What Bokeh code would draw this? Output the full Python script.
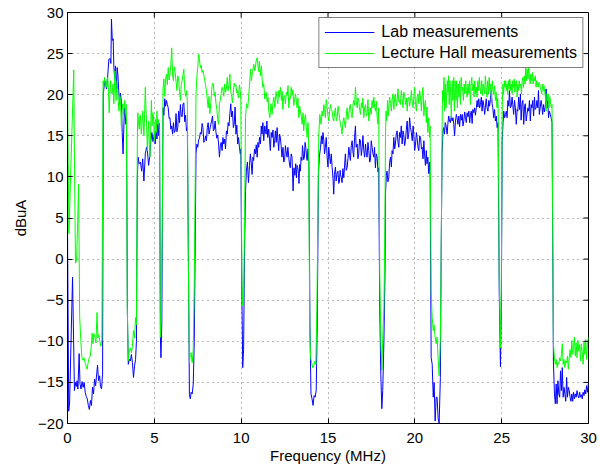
from bokeh.plotting import figure
from bokeh.models import Range1d, FixedTicker, CustomJSTickFormatter
from bokeh.embed import file_html
from bokeh.resources import INLINE

# ---------------- data ----------------
x_ticks = [0, 5, 10, 15, 20, 25, 30]
y_ticks = [-20, -15, -10, -5, 0, 5, 10, 15, 20, 25, 30]

lab_freq = [
    0.00, 0.07, 0.12, 0.29, 0.40, 0.45, 0.50, 0.55, 0.60, 0.67,
    0.72, 0.78, 0.84, 0.90, 0.96, 1.02, 1.08, 1.14, 1.20, 1.26,
    1.32, 1.38, 1.44, 1.50, 1.56, 1.62, 1.68, 1.73, 1.79, 1.85,
    1.90, 1.96, 2.02,
    2.06, 2.15, 2.25, 2.32, 2.38, 2.45, 2.50, 2.53, 2.58, 2.63,
    2.67, 2.72, 2.76, 2.82, 2.86, 2.90, 2.95, 3.00, 3.05, 3.10,
    3.15, 3.20, 3.24, 3.28, 3.32, 3.36, 3.40,
    3.45, 3.50, 3.56, 3.62, 3.68, 3.74, 3.80, 3.86, 3.92, 3.97,
    4.02, 4.07, 4.12, 4.20, 4.27, 4.33, 4.40, 4.48, 4.55, 4.60,
    4.67, 4.73, 4.80, 4.86, 4.92, 5.00, 5.05, 5.10, 5.15, 5.20,
    5.26, 5.30,
    5.35, 5.38, 5.43,
    5.50, 5.55, 5.60, 5.65, 5.70, 5.75, 5.80, 5.85, 5.90, 5.95,
    6.00, 6.05, 6.10, 6.15, 6.20, 6.25, 6.30, 6.35, 6.40, 6.45,
    6.50, 6.55, 6.60, 6.65, 6.70, 6.75, 6.80, 6.85, 6.90,
    6.97, 7.02, 7.07, 7.12, 7.18, 7.24, 7.30,
    7.40, 7.45, 7.50, 7.55, 7.60, 7.65, 7.70, 7.75, 7.80, 7.85,
    7.90, 7.95, 8.00, 8.05, 8.10, 8.15, 8.20, 8.25, 8.30, 8.35,
    8.40, 8.45, 8.50, 8.55, 8.60, 8.65, 8.70, 8.75, 8.80, 8.85,
    8.90, 8.95, 9.00, 9.05, 9.10, 9.15, 9.20, 9.25, 9.30, 9.35,
    9.40, 9.45, 9.50, 9.55, 9.60, 9.65, 9.70, 9.75, 9.80, 9.85,
    9.90, 9.95, 9.98,
    10.04, 10.09, 10.14, 10.20,
    10.25, 10.30, 10.36, 10.42, 10.48, 10.53, 10.58, 10.63, 10.68, 10.72,
    10.77, 10.82, 10.87, 10.92, 10.97, 11.01, 11.06, 11.11, 11.16, 11.20,
    11.25, 11.30, 11.36, 11.40, 11.44, 11.48, 11.53, 11.59, 11.63, 11.68,
    11.73, 11.78, 11.83, 11.88, 11.93, 11.97, 12.02, 12.07, 12.12, 12.16,
    12.21, 12.26, 12.30, 12.35, 12.41, 12.45, 12.50, 12.55, 12.58, 12.64,
    12.69, 12.74, 12.79, 12.83, 12.88, 12.93, 12.99, 13.04, 13.09, 13.14,
    13.18, 13.22, 13.26, 13.30, 13.33, 13.37, 13.41, 13.45, 13.50, 13.53,
    13.56, 13.60, 13.64, 13.68, 13.72, 13.76, 13.80, 13.85, 13.90,
    13.96, 14.02, 14.08, 14.14, 14.20, 14.26, 14.32, 14.38,
    14.45, 14.50, 14.57, 14.62, 14.66, 14.71, 14.76, 14.80, 14.85, 14.90,
    14.95, 15.00, 15.04, 15.09, 15.14, 15.19, 15.24, 15.29, 15.33, 15.37,
    15.43, 15.47, 15.52, 15.57, 15.62, 15.66, 15.70, 15.72, 15.77, 15.81,
    15.86, 15.91, 15.95, 16.00, 16.05, 16.10, 16.15, 16.20, 16.25, 16.29,
    16.34, 16.39, 16.44, 16.48, 16.53, 16.58, 16.62, 16.68, 16.72, 16.77,
    16.82, 16.87, 16.92, 16.97, 17.01, 17.06, 17.11, 17.16, 17.20, 17.25,
    17.30, 17.35, 17.40, 17.44, 17.49, 17.54, 17.59, 17.64, 17.68, 17.73,
    17.78, 17.83, 17.88, 17.92,
    17.98, 18.04, 18.10, 18.15, 18.22, 18.28,
    18.31, 18.36, 18.40, 18.45, 18.50, 18.55, 18.60, 18.65, 18.69, 18.74,
    18.79, 18.84, 18.88, 18.93, 18.98, 19.03, 19.08, 19.12, 19.17, 19.22,
    19.27, 19.32, 19.36, 19.41, 19.46, 19.51, 19.56, 19.60, 19.65, 19.70,
    19.75, 19.80, 19.85, 19.90, 19.94, 19.99, 20.04, 20.09, 20.13, 20.18,
    20.23, 20.28, 20.33, 20.38, 20.42, 20.47, 20.52, 20.56, 20.61, 20.66,
    20.70, 20.75, 20.80, 20.85, 20.88,
    20.94, 21.00, 21.06, 21.11, 21.17, 21.23, 21.28, 21.34, 21.40, 21.47,
    21.52, 21.57, 21.62, 21.66, 21.71, 21.75, 21.80, 21.86, 21.90, 21.95,
    22.00, 22.05, 22.10, 22.15, 22.20, 22.24, 22.29, 22.34, 22.39, 22.43,
    22.48, 22.53, 22.58, 22.63, 22.68, 22.73, 22.77, 22.82, 22.87, 22.92,
    22.96, 23.01, 23.06, 23.11, 23.16, 23.20, 23.25, 23.30, 23.34, 23.39,
    23.44, 23.49, 23.54, 23.59, 23.63, 23.68, 23.73, 23.78, 23.83, 23.87,
    23.92, 23.97, 24.02, 24.06, 24.11, 24.16, 24.21, 24.26, 24.30, 24.35,
    24.40, 24.45, 24.49, 24.54, 24.59, 24.64, 24.69, 24.74, 24.79,
    24.86, 24.93, 24.98,
    25.03, 25.08, 25.12, 25.17, 25.22, 25.27, 25.31, 25.36, 25.41, 25.45,
    25.50, 25.55, 25.60, 25.64, 25.69, 25.74, 25.79, 25.84, 25.89, 25.93,
    25.98, 26.03, 26.08, 26.12, 26.17, 26.22, 26.27, 26.32, 26.36, 26.41,
    26.46, 26.51, 26.56, 26.60, 26.65, 26.70, 26.74, 26.79, 26.84, 26.89,
    26.93, 26.98, 27.03, 27.08, 27.12, 27.17, 27.22, 27.27, 27.32, 27.36,
    27.41, 27.46, 27.51, 27.56, 27.60, 27.65, 27.70, 27.74, 27.80, 27.85,
    27.90,
    27.98, 28.04, 28.09, 28.14, 28.19, 28.24, 28.29, 28.34, 28.39, 28.44,
    28.49, 28.54, 28.59, 28.64, 28.69, 28.74, 28.79, 28.84, 28.89, 28.94,
    28.99, 29.04, 29.09, 29.14, 29.19, 29.24, 29.29, 29.34, 29.39, 29.44,
    29.49, 29.54, 29.59, 29.64, 29.69, 29.74, 29.79, 29.84, 29.89, 29.94,
    30.00,
]

lab_dbua = [
    4.0, -18.5, -17.5, -2.2, -16.0, -15.0, -15.5, -14.8, -15.8, -11.5,
    -15.2, -15.8, -14.9, -15.6, -15.0, -16.2, -16.7, -17.0, -17.8, -18.3,
    -17.2, -17.8, -15.6, -16.4, -14.6, -15.4, -14.0, -12.9, -14.8, -14.2,
    -15.5, -15.8, -14.0,
    20.1, 21.7, 20.7, 22.4, 24.3, 24.4, 23.8, 29.2, 26.6, 26.8,
    23.3, 22.0, 23.5, 20.7, 23.3, 22.5, 20.5, 18.9, 20.2, 19.2,
    15.4, 12.8, 15.8, 18.4, 17.6, 16.4, 17.0,
    -6.7, -12.8, -12.2, -12.4, -11.6, -12.6, -14.4, -13.0, -12.2, -10.0,
    10.0, 12.4, 11.6, 11.8, 10.7, 12.2, 9.5, 12.8, 13.6, 13.2,
    11.4, 12.4, 14.4, 15.4, 14.3, 15.2, 14.0, 15.6, 14.6, 16.8,
    15.0, 16.5,
    -9.5, -12.0, -8.0,
    18.4, 17.5, 19.5, 18.6, 19.3, 18.8, 18.4, 17.1, 17.2, 15.8,
    16.2, 15.2, 16.6, 15.4, 15.6, 17.7, 15.5, 16.0, 18.0, 16.6,
    18.8, 17.4, 17.3, 18.9, 19.0, 16.7, 17.5, 15.6, 16.0,
    -2.0, -16.5, -17.0, -16.2, -16.4, -15.2, -10.0,
    12.8, 14.0, 13.6, 14.5, 14.7, 15.4, 15.2, 16.5, 16.0, 14.2,
    14.4, 15.0, 14.4, 16.0, 16.6, 15.2, 15.8, 16.4, 16.8, 17.4,
    15.6, 15.8, 16.8, 15.4, 14.7, 15.1, 14.0, 12.4, 13.8, 14.2,
    13.2, 14.8, 14.0, 14.6, 13.4, 15.6, 15.2, 16.6, 16.2, 17.7,
    18.9, 17.3, 18.0, 16.0, 16.4, 18.5, 15.2, 16.3, 14.0, 14.8,
    13.6, 12.8, 13.4,
    -4.0, -13.2, -11.0, 2.0,
    8.2, 10.7, 11.8, 9.3, 11.4, 12.8, 11.7, 10.3, 12.4, 12.0,
    13.4, 12.8, 13.9, 12.4, 14.2, 13.6, 14.8, 14.0, 16.2, 15.2,
    16.6, 14.4, 16.2, 15.5, 15.2, 16.8, 14.8, 15.8, 14.6, 13.2,
    15.4, 14.8, 15.7, 13.6, 14.4, 15.6, 14.2, 16.0, 14.4, 13.2,
    15.2, 14.8, 13.8, 12.4, 13.6, 11.8, 12.0, 13.8, 13.2, 12.4,
    13.6, 12.4, 11.4, 11.1, 12.8, 12.4, 8.3, 11.1, 10.2, 11.6,
    9.9, 11.4, 11.1, 10.4, 9.2, 11.5, 10.7, 12.4, 12.0, 13.8,
    13.2, 12.1, 12.4, 14.2, 13.6, 12.6, 12.0, 13.4, 11.8,
    -8.0, -16.4, -17.0, -17.8, -16.6, -16.8, -16.0, -8.0,
    10.3, 12.4, 13.6, 15.0, 14.0, 15.4, 14.4, 12.8, 13.6, 14.8,
    12.4, 11.2, 13.6, 12.5, 11.6, 12.8, 11.1, 9.8, 7.9, 10.3,
    11.2, 9.5, 10.4, 10.7, 9.2, 9.5, 10.8, 10.3, 9.9, 9.3,
    11.0, 9.9, 11.2, 12.8, 10.8, 11.1, 12.2, 13.6, 12.6, 12.0,
    13.8, 14.4, 13.0, 12.4, 14.8, 16.2, 13.6, 14.0, 12.2, 12.8,
    14.6, 14.4, 12.6, 13.6, 15.0, 13.2, 12.4, 14.0, 13.0, 12.4,
    14.2, 13.2, 11.8, 12.0, 14.4, 13.6, 12.8, 12.4, 13.6, 11.1,
    12.8, 12.4, 10.6, 11.1,
    -6.0, -14.0, -18.2, -16.0, -10.0, -2.0,
    7.9, 10.2, 10.7, 9.4, 9.9, 11.8, 12.4, 11.2, 13.2, 12.8,
    14.8, 13.4, 14.0, 15.2, 15.6, 14.2, 13.6, 15.4, 14.8, 16.2,
    14.0, 15.6, 15.2, 13.8, 14.4, 15.8, 16.8, 14.6, 15.2, 17.2,
    16.0, 15.4, 14.4, 16.2, 15.2, 13.2, 14.0, 15.4, 14.8, 13.6,
    13.2, 15.0, 14.8, 13.4, 13.6, 12.2, 14.4, 12.8, 11.4, 13.2,
    11.6, 12.4, 10.4, 11.8, 10.1,
    -12.0, -12.8, -16.8, -15.0, -19.7, -16.8, -16.8, -19.3, -20.0, -14.4,
    2.0, 12.8, 15.6, 16.0, 15.2, 16.6, 16.2, 15.2, 16.4, 17.4,
    16.8, 16.6, 17.4, 16.8, 17.2, 16.4, 15.0, 16.8, 17.6, 17.2,
    16.4, 17.4, 16.1, 17.6, 16.9, 17.6, 16.2, 16.8, 17.9, 17.2,
    16.6, 17.8, 17.3, 18.0, 16.6, 17.6, 18.0, 16.5, 18.2, 17.8,
    18.4, 17.5, 18.4, 19.3, 18.5, 19.5, 18.4, 18.8, 19.7, 18.0,
    19.3, 18.7, 17.6, 18.4, 19.5, 18.4, 18.0, 19.3, 18.6, 19.4,
    20.5, 18.9, 18.4, 17.2, 18.2, 16.8, 17.4, 16.0, 16.6,
    -4.0, -13.1, -6.0,
    14.4, 16.6, 18.0, 17.2, 17.6, 18.0, 17.2, 19.3, 18.6, 20.5,
    18.4, 18.6, 19.7, 18.8, 17.6, 19.3, 18.4, 16.4, 18.2, 18.0,
    19.7, 18.2, 20.1, 16.9, 18.8, 19.3, 16.4, 18.6, 18.9, 16.8,
    17.6, 18.4, 18.0, 19.3, 16.8, 18.8, 18.4, 19.3, 17.4, 19.7,
    18.2, 18.4, 19.3, 18.4, 20.5, 17.6, 18.4, 19.3, 18.6, 17.6,
    18.8, 17.9, 18.5, 20.7, 18.4, 19.3, 17.2, 18.0, 17.6, 17.2,
    16.6,
    -12.5, -16.4, -17.6, -15.2, -17.6, -14.8, -16.4, -16.8, -13.6, -16.0,
    -13.2, -16.8, -15.6, -16.4, -17.3, -14.4, -16.8, -15.6, -16.0, -16.8,
    -17.3, -16.4, -17.3, -16.2, -17.0, -16.4, -16.8, -16.0, -16.6, -16.9,
    -16.2, -16.8, -16.5, -17.0, -16.2, -16.6, -15.9, -16.4, -15.4, -16.2,
    -15.0,
]

hall_freq = [
    0.00, 0.04, 0.08, 0.36, 0.41, 0.46, 0.52, 0.58, 0.64, 0.70,
    0.77, 0.83, 0.89, 0.95, 1.01, 1.07, 1.13, 1.19, 1.25, 1.31,
    1.37, 1.42, 1.47, 1.52, 1.58, 1.64, 1.70, 1.75, 1.80, 1.86,
    1.92, 1.98,
    2.05, 2.09, 2.13, 2.18, 2.24, 2.28, 2.32, 2.36, 2.40, 2.44,
    2.48, 2.52, 2.57, 2.62, 2.67, 2.73, 2.77, 2.80, 2.83, 2.86,
    2.91, 2.96, 3.01, 3.05, 3.10, 3.14, 3.18, 3.23, 3.28, 3.31,
    3.34, 3.39,
    3.44, 3.50, 3.56, 3.62, 3.68, 3.74, 3.80, 3.86, 3.92, 3.97,
    4.02, 4.05, 4.09, 4.13, 4.17, 4.20, 4.25, 4.29, 4.33, 4.37,
    4.40, 4.44, 4.48, 4.52, 4.55, 4.60, 4.64, 4.68, 4.71, 4.75,
    4.79, 4.83, 4.87, 4.91, 4.95, 5.00, 5.04, 5.07, 5.11, 5.15,
    5.19, 5.22, 5.27, 5.30,
    5.35, 5.40, 5.46,
    5.50, 5.55, 5.60, 5.65, 5.70, 5.75, 5.80, 5.85, 5.90, 5.95,
    6.00, 6.05, 6.10, 6.15, 6.20, 6.25, 6.30, 6.35, 6.40, 6.45,
    6.50, 6.55, 6.60, 6.65, 6.70, 6.75, 6.80, 6.85, 6.90,
    6.97, 7.02, 7.07, 7.12, 7.18, 7.24, 7.30,
    7.40, 7.45, 7.50, 7.55, 7.60, 7.65, 7.70, 7.75, 7.80, 7.85,
    7.90, 7.95, 8.00, 8.05, 8.10, 8.15, 8.20, 8.25, 8.30, 8.35,
    8.40, 8.45, 8.50, 8.55, 8.60, 8.65, 8.70, 8.75, 8.80, 8.85,
    8.90, 8.95, 9.00, 9.05, 9.10, 9.15, 9.20, 9.25, 9.30, 9.35,
    9.40, 9.45, 9.50, 9.55, 9.60, 9.65, 9.70, 9.75, 9.80, 9.85,
    9.90, 9.95, 9.98,
    10.04, 10.09, 10.14, 10.20,
    10.25, 10.31, 10.38, 10.43, 10.48, 10.54, 10.59, 10.64, 10.67, 10.73,
    10.78, 10.83, 10.86, 10.92, 10.98, 11.02, 11.05, 11.11, 11.17, 11.21,
    11.25, 11.30, 11.36, 11.44, 11.50, 11.55, 11.59, 11.65, 11.72, 11.78,
    11.83, 11.88, 11.94, 12.01, 12.06, 12.11, 12.16, 12.20, 12.26, 12.32,
    12.36, 12.40, 12.45, 12.50, 12.55, 12.60, 12.65, 12.70, 12.74, 12.79,
    12.84, 12.88, 12.93, 12.98, 13.03, 13.08, 13.13, 13.18, 13.22, 13.27,
    13.32, 13.37, 13.41, 13.46, 13.51, 13.56, 13.60, 13.65, 13.70, 13.75,
    13.80, 13.85, 13.88,
    13.95, 14.00, 14.06, 14.12, 14.18, 14.24, 14.30, 14.36,
    14.47, 14.53, 14.60, 14.66, 14.71, 14.76, 14.80, 14.85, 14.90, 14.95,
    15.00, 15.04, 15.09, 15.14, 15.19, 15.24, 15.29, 15.33, 15.38, 15.43,
    15.48, 15.53, 15.58, 15.62, 15.67, 15.72, 15.77, 15.81, 15.86, 15.91,
    15.96, 16.00, 16.05, 16.10, 16.15, 16.20, 16.25, 16.29, 16.34, 16.39,
    16.44, 16.48, 16.53, 16.58, 16.63, 16.68, 16.72, 16.77, 16.82, 16.87,
    16.92, 16.97, 17.01, 17.06, 17.11, 17.16, 17.20, 17.25, 17.30, 17.35,
    17.40, 17.44, 17.49, 17.54, 17.59, 17.64, 17.68, 17.73, 17.78, 17.83,
    17.88, 17.92,
    17.98, 18.05, 18.10, 18.16, 18.22, 18.28,
    18.31, 18.34, 18.38, 18.43, 18.47, 18.50, 18.55, 18.60, 18.65, 18.69,
    18.74, 18.79, 18.84, 18.88, 18.93, 18.98, 19.03, 19.08, 19.12, 19.17,
    19.22, 19.27, 19.32, 19.36, 19.41, 19.46, 19.51, 19.56, 19.60, 19.65,
    19.70, 19.75, 19.80, 19.85, 19.90, 19.94, 19.99, 20.04, 20.09, 20.13,
    20.18, 20.23, 20.28, 20.33, 20.38, 20.42, 20.47, 20.52, 20.56, 20.61,
    20.66, 20.70, 20.75, 20.80, 20.85, 20.88,
    20.94, 21.00, 21.06, 21.11, 21.17, 21.23, 21.28, 21.34, 21.40, 21.47,
    21.51,
    21.57, 21.60, 21.64, 21.68, 21.72, 21.76, 21.80, 21.84, 21.87, 21.91,
    21.94, 21.98, 22.02, 22.06, 22.10, 22.15, 22.19, 22.24, 22.28, 22.32,
    22.37, 22.41, 22.45, 22.50, 22.54, 22.58, 22.63, 22.67, 22.71, 22.75,
    22.80, 22.84, 22.88, 22.93, 22.97, 23.01, 23.06, 23.11, 23.15, 23.20,
    23.24, 23.28, 23.32, 23.37, 23.41, 23.45, 23.50, 23.54, 23.58, 23.63,
    23.67, 23.72, 23.76, 23.80, 23.85, 23.89, 23.93, 23.98, 24.02, 24.06,
    24.11, 24.15, 24.19, 24.24, 24.28, 24.33, 24.37, 24.41, 24.46, 24.50,
    24.55, 24.59, 24.64, 24.68, 24.73, 24.77, 24.80,
    24.86, 24.93, 24.98,
    25.03, 25.07, 25.11, 25.15, 25.19, 25.23, 25.27, 25.31, 25.35, 25.39,
    25.43, 25.47, 25.52, 25.56, 25.60, 25.64, 25.68, 25.72, 25.76, 25.80,
    25.85, 25.89, 25.93, 25.97, 26.01, 26.05, 26.10, 26.14, 26.18, 26.22,
    26.26, 26.30, 26.35, 26.39, 26.43, 26.47, 26.52, 26.56, 26.60, 26.64,
    26.68, 26.73, 26.77, 26.81, 26.85, 26.89, 26.94, 26.98, 27.02, 27.06,
    27.10, 27.15, 27.19, 27.23, 27.27, 27.31, 27.35, 27.40, 27.44, 27.48,
    27.52, 27.56, 27.61, 27.65, 27.69, 27.73, 27.78, 27.82, 27.87, 27.90,
    27.98, 28.04, 28.09, 28.14, 28.19, 28.24, 28.29, 28.34, 28.39, 28.44,
    28.49, 28.54, 28.59, 28.64, 28.69, 28.74, 28.79, 28.84, 28.89, 28.94,
    28.99, 29.04, 29.09, 29.14, 29.19, 29.24, 29.29, 29.34, 29.39, 29.44,
    29.49, 29.54, 29.59, 29.64, 29.69, 29.74, 29.79, 29.84, 29.89, 29.94,
    30.00,
]

hall_dbua = [
    23.0, 12.0, 3.1, 23.0, 10.0, -0.5, -0.2, 4.0, 9.1, -7.0,
    -10.0, -12.0, -12.3, -12.0, -12.6, -13.0, -13.4, -12.6, -12.0, -11.8,
    -10.6, -9.0, -10.3, -9.1, -9.5, -10.2, -6.5, -9.6, -9.2, -10.0,
    -10.6, -9.8,
    21.7, 21.0, 22.1, 21.2, 20.9, 21.8, 22.1, 20.6, 17.8, 20.0,
    21.7, 20.4, 20.1, 21.3, 18.9, 22.9, 20.4, 19.3, 20.9, 21.7,
    19.6, 18.0, 19.9, 19.3, 16.2, 18.0, 18.9, 17.5, 19.3, 18.6,
    18.0, 18.8,
    -5.5, -12.4, -11.2, -10.8, -11.4, -10.6, -8.7, -9.6, -7.1, -8.0,
    14.4, 17.8, 16.6, 15.8, 17.4, 17.5, 15.2, 16.4, 18.0, 16.2,
    15.0, 17.6, 20.9, 18.2, 16.8, 13.2, 15.6, 16.8, 14.0, 12.4,
    15.8, 19.3, 16.2, 17.8, 17.5, 14.4, 16.5, 17.0, 15.4, 18.0,
    16.4, 17.0, 16.5, 15.5,
    -9.5, -7.0, 5.0,
    20.7, 21.9, 19.8, 21.9, 22.5, 21.2, 23.3, 21.8, 22.5, 23.6,
    25.7, 22.4, 21.7, 23.4, 22.7, 21.6, 20.5, 22.3, 21.9, 20.4,
    19.3, 21.2, 21.7, 22.4, 23.1, 20.6, 19.8, 20.5, 19.3,
    -3.0, -12.6, -11.6, -11.4, -12.6, -11.0, -3.0,
    20.1, 22.2, 23.3, 24.9, 24.2, 23.3, 23.6, 22.7, 23.0, 22.4,
    21.7, 21.2, 20.5, 19.4, 18.4, 19.8, 17.7, 18.9, 20.5, 21.4,
    21.3, 19.8, 20.3, 18.9, 18.2, 17.0, 16.4, 18.9, 19.3, 20.2,
    20.9, 20.5, 19.8, 21.3, 20.3, 20.7, 22.1, 20.5, 21.2, 22.5,
    20.4, 19.8, 19.0, 20.3, 21.4, 21.0, 21.2, 20.2, 20.5, 19.6,
    21.2, 20.5, 19.4,
    -2.0, -5.7, -5.0, 5.0,
    17.2, 18.9, 18.4, 19.8, 21.1, 23.1, 21.7, 22.6, 22.9, 23.7,
    22.9, 23.5, 24.1, 24.5, 23.3, 22.8, 24.1, 22.3, 23.5, 21.8,
    20.9, 21.3, 19.5, 20.3, 19.1, 19.7, 18.0, 17.2, 18.9, 17.6,
    19.0, 19.7, 18.4, 20.4, 19.5, 18.9, 20.5, 19.7, 20.9, 19.3,
    20.4, 18.2, 19.7, 19.9, 18.9, 20.3, 19.9, 21.1, 18.4, 19.6,
    19.5, 20.9, 19.9, 20.6, 18.7, 19.4, 20.1, 19.2, 18.4, 19.6,
    17.2, 18.6, 18.0, 17.4, 16.4, 17.8, 15.6, 16.9, 17.6, 16.1,
    14.8, 16.6, 15.2,
    -8.7, -12.0, -12.6, -13.2, -13.0, -12.4, -12.8, -6.0,
    15.2, 17.6, 16.4, 18.0, 17.4, 18.8, 18.2, 17.2, 19.4, 18.4,
    17.4, 16.8, 17.9, 18.8, 18.2, 18.0, 17.1, 16.8, 17.8, 18.4,
    16.8, 17.2, 18.6, 18.0, 17.1, 16.4, 15.9, 15.2, 16.6, 17.2,
    16.4, 16.0, 17.4, 18.4, 17.0, 17.6, 18.6, 18.8, 17.6, 17.2,
    18.8, 19.3, 18.7, 20.9, 19.2, 18.4, 19.6, 19.3, 18.2, 17.6,
    19.0, 18.4, 19.6, 17.2, 18.4, 18.8, 17.4, 17.6, 19.4, 16.8,
    17.8, 18.4, 17.6, 19.3, 18.4, 19.7, 18.6, 18.0, 19.2, 17.2,
    16.4, 18.4,
    -2.0, -10.0, -13.5, -9.0, -6.0, 5.0,
    14.8, 18.0, 16.8, 19.3, 17.4, 18.4, 19.7, 18.9, 18.0, 19.3,
    20.1, 18.2, 19.7, 20.1, 18.6, 19.3, 20.7, 19.1, 19.3, 18.8,
    20.5, 19.5, 18.4, 20.3, 20.1, 18.8, 19.6, 18.0, 19.5, 19.7,
    18.6, 19.3, 20.5, 19.1, 18.4, 19.6, 20.9, 18.8, 18.0, 19.7,
    20.1, 18.9, 20.5, 19.6, 18.0, 19.8, 20.9, 17.4, 18.6, 19.3,
    16.6, 18.5, 15.4, 17.2, 14.8, 16.2,
    -4.0, -7.1, -8.7, -8.0, -9.5, -10.3, -9.5, -12.0, -14.2, -9.5,
    -1.8,
    16.0, 20.5, 19.2, 22.1, 18.0, 21.3, 18.4, 20.4, 21.7, 20.2,
    22.3, 18.8, 21.7, 20.3, 17.2, 21.7, 19.3, 22.1, 18.0, 21.7,
    19.3, 21.7, 18.4, 21.3, 19.7, 21.7, 18.8, 22.1, 20.5, 20.9,
    19.3, 21.3, 20.1, 21.7, 20.5, 19.7, 21.3, 20.1, 21.7, 18.8,
    21.3, 22.1, 20.5, 21.3, 19.7, 21.7, 20.1, 20.9, 19.7, 21.7,
    20.5, 22.1, 20.7, 20.1, 21.7, 19.9, 21.3, 20.9, 20.1, 22.3,
    20.5, 19.7, 21.7, 20.1, 22.1, 20.5, 21.3, 19.4, 21.7, 20.5,
    20.1, 21.1, 19.3, 20.3, 18.4, 19.6, 18.4,
    -2.0, -10.8, -3.0,
    18.0, 21.3, 20.1, 21.7, 20.9, 21.7, 20.5, 21.3, 20.1, 21.7,
    20.7, 21.9, 20.5, 21.3, 20.1, 21.7, 20.9, 21.9, 20.3, 21.3,
    21.7, 19.7, 21.3, 20.5, 21.7, 20.9, 21.3, 20.1, 21.7, 22.1,
    20.9, 22.3, 21.3, 23.3, 21.7, 23.1, 21.9, 23.7, 22.1, 21.3,
    22.5, 21.7, 22.7, 21.3, 22.1, 21.7, 22.3, 20.9, 21.7, 21.1,
    20.9, 21.5, 21.3, 20.9, 20.5, 20.1, 21.3, 20.5, 21.1, 20.3,
    19.7, 18.0, 20.1, 19.3, 20.1, 18.4, 19.7, 18.8, 18.4, 18.8,
    -10.3, -12.0, -12.8, -12.2, -13.2, -12.6, -12.8, -12.0, -12.4, -11.6,
    -10.3, -12.8, -12.2, -13.2, -12.4, -12.6, -11.8, -13.4, -12.0, -11.0,
    -12.0, -9.9, -11.6, -10.6, -9.5, -11.8, -10.2, -12.0, -9.9, -11.2,
    -10.4, -12.4, -10.3, -11.4, -12.8, -10.1, -11.6, -9.8, -12.2, -10.4,
    -9.5,
]

assert len(lab_freq) == len(lab_dbua), (len(lab_freq), len(lab_dbua))
assert len(hall_freq) == len(hall_dbua), (len(hall_freq), len(hall_dbua))

# ---------------- figure ----------------
FONT = "Liberation Sans"
FS = "15px"
X0, X1, Y0, Y1 = 0, 30, -20, 30
W, H = 600, 471
BL, BR, BT, BB = 67, 12, 12, 48
TICK_PX = 5

p = figure(width=W, height=H, output_backend="svg", toolbar_location=None,
           x_range=Range1d(X0, X1), y_range=Range1d(Y0, Y1),
           min_border_left=BL, min_border_right=BR, min_border_top=BT,
           min_border_bottom=BB,
           x_axis_label="Frequency (MHz)", y_axis_label="dBuA")
p.background_fill_color = "white"
p.border_fill_color = "white"
p.outline_line_color = "black"
p.outline_line_width = 1

# dotted grid
for g in (p.xgrid, p.ygrid):
    g.grid_line_color = "black"
    g.grid_line_alpha = 0.55
    g.grid_line_dash = "1 4"
    g.grid_line_width = 1
p.xgrid.ticker = FixedTicker(ticks=x_ticks)
p.ygrid.ticker = FixedTicker(ticks=y_ticks)

p.line(lab_freq, lab_dbua, line_color="#0000ff", line_width=1,
       legend_label="Lab measurements")
p.line(hall_freq, hall_dbua, line_color="#00ff00", line_width=1,
       legend_label="Lecture Hall measurements")

# inward ticks on the top and right edges (MATLAB box style)
frame_w = W - BL - BR
frame_h = H - BT - BB
dy = TICK_PX * (Y1 - Y0) / frame_h
dx = TICK_PX * (X1 - X0) / frame_w
p.segment(x0=x_ticks, y0=[Y1] * len(x_ticks), x1=x_ticks, y1=[Y1 - dy] * len(x_ticks),
          line_color="black", line_width=1)
p.segment(x0=[X1] * len(y_ticks), y0=y_ticks, x1=[X1 - dx] * len(y_ticks), y1=y_ticks,
          line_color="black", line_width=1)

minus_fmt = CustomJSTickFormatter(
    code="return tick < 0 ? '\u2212' + Math.abs(tick) : String(tick);")

p.xaxis.ticker = FixedTicker(ticks=x_ticks)
p.yaxis.ticker = FixedTicker(ticks=y_ticks)
p.yaxis.formatter = minus_fmt
for ax in p.xaxis + p.yaxis:
    ax.major_tick_in = TICK_PX
    ax.major_tick_out = 0
    ax.minor_tick_line_color = None
    ax.axis_line_color = "black"
    ax.major_tick_line_color = "black"
    ax.major_label_text_font = FONT
    ax.major_label_text_font_size = FS
    ax.major_label_text_color = "black"
    ax.axis_label_text_font = FONT
    ax.axis_label_text_font_size = FS
    ax.axis_label_text_font_style = "normal"
    ax.axis_label_text_color = "black"
p.xaxis.major_label_standoff = 9
p.xaxis.axis_label_standoff = 1
p.yaxis.major_label_standoff = 4
p.yaxis.axis_label_standoff = 6

lg = p.legend[0]
lg.location = "top_right"
lg.margin = 5
lg.padding = 5
lg.spacing = 3
lg.label_height = 16
lg.glyph_height = 16
lg.glyph_width = 50
lg.label_standoff = 7
lg.label_text_font = FONT
lg.label_text_font_size = "16px"
lg.label_text_color = "black"
lg.border_line_color = "black"
lg.border_line_width = 1
lg.background_fill_color = "white"
lg.background_fill_alpha = 1.0

open("out.html", "w").write(file_html(p, INLINE))
